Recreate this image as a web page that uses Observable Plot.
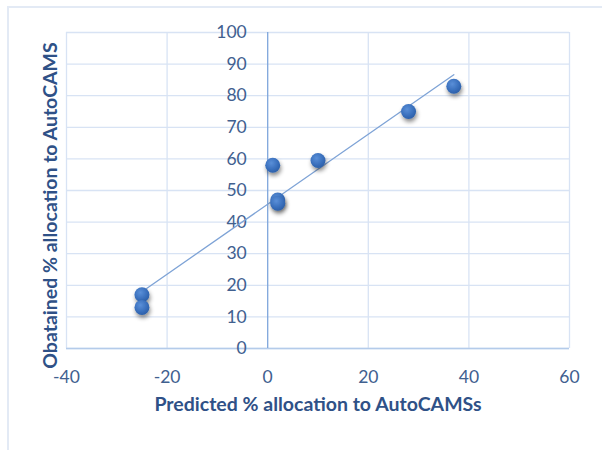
<!DOCTYPE html>
<html><head><meta charset="utf-8">
<script src="https://cdn.jsdelivr.net/npm/d3@7"></script>
<script src="https://cdn.jsdelivr.net/npm/@observablehq/plot@0.6"></script>
<style>
body{margin:0;background:#fff;}
#wrap{position:relative;width:602px;height:450px;overflow:hidden;background:#fff;}
#frame{position:absolute;left:7px;top:6px;width:700px;height:500px;border-left:2px solid #e3eaf5;border-top:2px solid #e3eaf5;}
#chart{position:absolute;left:0;top:0;}
</style></head><body>
<div id="wrap"><div id="frame"></div><div id="chart"></div></div>
<script>
const predicted = [-25, -25, 1, 2, 2, 10, 28, 37];
const obtained  = [17, 13, 58, 47, 46, 59.5, 75, 83];
const xTicks = [-40, -20, 0, 20, 40, 60];
const yTicks = [0, 10, 20, 30, 40, 50, 60, 70, 80, 90, 100];
const xTitle = "Predicted % allocation to AutoCAMSs";
const yTitle = "Obatained % allocation to AutoCAMS";

const data = predicted.map((x, i) => ({x, y: obtained[i]}));
const tickColor = "#41608f";
const titleColor = "#2f5187";
const gridColor = "#d8e3f4";

const plot = Plot.plot({
  width: 602,
  height: 450,
  marginLeft: 66,
  marginRight: 33,
  marginTop: 32,
  marginBottom: 102,
  style: {fontFamily: "Lato, 'Open Sans', sans-serif", background: "transparent", overflow: "visible"},
  x: {domain: [-40, 60], ticks: xTicks, axis: null},
  y: {domain: [0, 100], ticks: yTicks, axis: null},
  marks: [
    Plot.ruleY(yTicks, {stroke: gridColor, strokeWidth: 1.3}),
    Plot.ruleX(xTicks.filter(d => d !== 0), {stroke: gridColor, strokeWidth: 1.3}),
    Plot.ruleY([0], {stroke: "#b4cbea", strokeWidth: 1.5}),
    Plot.ruleX([0], {stroke: "#7fa6dc", strokeWidth: 1.3}),
    Plot.text(yTicks, {x: 0, y: d => d, text: d => String(d), textAnchor: "end", dx: -21, fill: tickColor, fontSize: 17.5}),
    Plot.text(xTicks, {x: d => d, y: 0, text: d => String(d), dy: 29, fill: tickColor, fontSize: 17.5}),
    Plot.linearRegressionY(data, {x: "x", y: "y", stroke: "#7ea3d6", strokeWidth: 1.3, ci: 0}),
    Plot.dot(data, {x: "x", y: "y", r: 7.5, fill: "url(#dotGrad)", stroke: "none"}),
    Plot.text([xTitle], {frameAnchor: "bottom", dy: 62, fill: titleColor, fontSize: 19.5, fontWeight: "bold"}),
    Plot.text([yTitle], {frameAnchor: "left", textAnchor: "middle", dx: -16, dy: 15, rotate: -90, fill: titleColor, fontSize: 19.5, fontWeight: "bold"})
  ]
});

const ns = "http://www.w3.org/2000/svg";
const defs = document.createElementNS(ns, "defs");
defs.innerHTML = `
<radialGradient id="dotGrad" cx="40%" cy="35%" r="70%">
  <stop offset="0%" stop-color="#5a8fd8"/>
  <stop offset="60%" stop-color="#3a70bd"/>
  <stop offset="100%" stop-color="#2a5da6"/>
</radialGradient>
<filter id="dotShadow" x="-60%" y="-60%" width="220%" height="220%">
  <feDropShadow dx="1" dy="3" stdDeviation="2" flood-color="#000" flood-opacity="0.45"/>
</filter>`;
plot.insertBefore(defs, plot.firstChild);
plot.querySelectorAll("circle").forEach(c => c.setAttribute("filter", "url(#dotShadow)"));
document.getElementById("chart").appendChild(plot);
</script>
</body></html>
